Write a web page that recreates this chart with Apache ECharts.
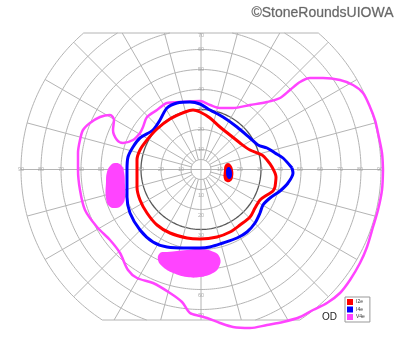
<!DOCTYPE html>
<html><head><meta charset="utf-8">
<script src="https://cdn.jsdelivr.net/npm/echarts@6/dist/echarts.min.js"></script>
<style>html,body{margin:0;padding:0;background:#fff}#c{width:400px;height:352px}</style>
</head><body><div id="c"></div>
<script>
// ---- grid definition (degrees of eccentricity) ----
const ringDegrees = [5, 10, 20, 30, 40, 50, 60, 70, 80, 90];
const spokeAngles = [0,15,30,45,60,75,90,105,120,135,150,165,180,195,210,225,240,255,270,285,300,315,330,345];
const horizontalTickLabels = [10, 20, 30, 40, 50, 60, 70, 80, 90];
const verticalTickLabels = [10, 20, 30, 40, 50, 60, 70];
const topLimit = 68.25;
const bottomLimit = -75.25;

// ---- isopters: [horizontal deg, vertical deg] ----
const isopterI2e = [[37,-8.75],[37.5,-3.75],[35.5,1.25],[33,4.75],[30.5,7.25],[24.5,9.75],[19.5,13.25],[14.5,17.25],[9.5,21.25],[4.5,25.75],[-0.5,28.75],[-4,29.75],[-8,28.75],[-15.5,25.25],[-22,20.25],[-27,14.75],[-30.5,9.75],[-32,4.75],[-32,-0.25],[-32,-8.75],[-30.5,-15.25],[-27,-21.75],[-22,-27.75],[-15.5,-31.75],[-7,-34.25],[-0.5,-34.75],[8,-33.75],[14.5,-31.25],[19.5,-27.75],[24.5,-23.75],[27,-19.25],[29.5,-15.25],[33,-12.75],[36,-10.75],[37,-8.75]];
const isopterI4e = [[45.5,0.75],[41,5.75],[37,8.25],[33,10.75],[28.5,12.25],[24.5,15.75],[18,21.25],[11,26.25],[4.5,29.75],[-0.5,32.75],[-5.5,33.75],[-12,33.25],[-17,30.75],[-20.5,24.75],[-24,19.75],[-30.5,15.75],[-34,11.25],[-36.5,6.25],[-37,-0.25],[-37,-13.75],[-35.5,-21.75],[-30.5,-30.25],[-24,-36.25],[-17,-38.75],[-7,-39.25],[-0.5,-39.25],[4.5,-38.75],[11,-36.75],[18,-34.25],[23,-31.25],[27,-26.75],[29.5,-21.75],[31,-17.75],[34.5,-14.25],[39.5,-10.75],[43.5,-6.75],[46,-1.75],[45.5,0.75]];
const isopterV4e = [[91,-0.25],[90.5,8.25],[88.5,18.25],[87,24.75],[84.5,31.25],[81,38.25],[76,42.25],[69.5,44.75],[61,45.75],[54.5,45.75],[49.5,43.75],[44.5,39.75],[39.5,35.75],[33,33.75],[24.5,32.25],[16,30.75],[9.5,30.75],[4.5,32.25],[-0.5,34.25],[-10.5,33.75],[-17,33.25],[-22,29.75],[-27,26.25],[-29,21.25],[-30.5,18.25],[-34,14.75],[-39,13.25],[-42,14.75],[-44,19.75],[-43.5,24.75],[-45.5,27.25],[-50.5,26.25],[-55.5,23.25],[-59,19.75],[-60.5,14.75],[-61.5,8.25],[-61.5,-0.25],[-60.5,-10.25],[-58,-20.25],[-52,-28.75],[-45.5,-35.25],[-40.5,-41.75],[-36.5,-50.25],[-32,-54.25],[-24,-56.75],[-15.5,-61.75],[-9.5,-66.25],[-5.5,-71.75],[-0.5,-73.25],[3,-74.25],[9.5,-76.75],[16,-78.75],[24.5,-79.25],[33,-77.75],[41,-76.25],[49.5,-73.75],[56,-70.25],[63,-66.75],[69.5,-61.75],[74.5,-55.25],[79.5,-46.75],[83,-38.75],[86,-28.75],[88.5,-20.25],[90.5,-10.25],[91,-0.25]];

// ---- scotomas (filled areas) ----
const scotomaV4eLeft = [[-43,3.25],[-40,2.25],[-38.5,-1.25],[-38,-7.75],[-38,-14.25],[-39.5,-17.75],[-42.5,-19.25],[-46,-18.25],[-47.5,-14.25],[-47.5,-6.25],[-47,-1.25],[-45.5,1.75]];
const scotomaV4eLower = [[-20.5,-41.75],[-21.5,-45.25],[-19,-48.75],[-14,-51.75],[-7,-53.75],[-0.5,-53.75],[6,-51.75],[9,-48.75],[9.5,-44.25],[6.5,-41.25],[-0.5,-39.75],[-7,-40.25],[-17,-41.25]];
const blindSpotI2e = [[13.5,3.25],[15,2.25],[16,-0.25],[16,-3.75],[15,-5.75],[13,-6.25],[11.5,-4.75],[11.5,-0.25],[12,2.25]];
const blindSpotI4e = [[14,1.25],[15,0.25],[15.5,-2.25],[15,-4.25],[14,-4.75],[13,-3.75],[12.5,-1.25],[13,0.75]];

const legendNames = ['I2e', 'I4e', 'V4e'];
const colors = { I2e: '#ff0000', I4e: '#0000ff', V4e: '#ff44ff' };

// ---- grid geometry helpers ----
function ringPaths(r) {
  const step = Math.PI / 180;
  const pt = t => [r * Math.cos(t), r * Math.sin(t)];
  const range = (a, b) => { const out = []; const n = Math.max(2, Math.ceil((b - a) / step)); for (let i = 0; i <= n; i++) out.push(pt(a + (b - a) * i / n)); return out; };
  const topClip = r > topLimit, botClip = r > -bottomLimit;
  if (!topClip && !botClip) return [range(0, 2 * Math.PI)];
  const aT = topClip ? Math.asin(topLimit / r) : Math.PI / 2;
  const aB = botClip ? Math.asin(bottomLimit / r) : -Math.PI / 2;
  if (topClip && !botClip) return [range(Math.PI - aT, 2 * Math.PI + aT)];
  if (!topClip && botClip) return [range(aB, Math.PI - aB)];
  return [range(aB, aT), range(Math.PI - aT, Math.PI - aB)];
}
function spokePath(a) {
  const t = a * Math.PI / 180, c = Math.cos(t), s = Math.sin(t);
  let rEnd = 90;
  if (s > 1e-9) rEnd = Math.min(90, topLimit / s);
  if (s < -1e-9) rEnd = Math.min(90, bottomLimit / s);
  const rStart = (a % 90 === 0) ? 0 : 5;
  return [[rStart * c, rStart * s], [rEnd * c, rEnd * s]];
}
const outerR = 90;
const chordPaths = [
  [[-Math.sqrt(outerR * outerR - topLimit * topLimit), topLimit], [Math.sqrt(outerR * outerR - topLimit * topLimit), topLimit]],
  [[-Math.sqrt(outerR * outerR - bottomLimit * bottomLimit), bottomLimit], [Math.sqrt(outerR * outerR - bottomLimit * bottomLimit), bottomLimit]]
];

const series = [];
function gridLine(path, color, width) {
  series.push({ type: 'line', data: path, showSymbol: false, symbol: 'none', silent: true, animation: false, z: 1,
    lineStyle: { color: color, width: width }, emphasis: { disabled: true } });
}
ringDegrees.forEach(r => ringPaths(r).forEach(p => gridLine(p, r === 30 ? '#5a5a5a' : '#b4b4b4', r === 30 ? 1.3 : 1)));
spokeAngles.forEach(a => gridLine(spokePath(a), '#b4b4b4', 1));
chordPaths.forEach(p => gridLine(p, '#b4b4b4', 1));

// tick labels
const labelData = [];
horizontalTickLabels.forEach(v => { labelData.push([-v, 0, v]); labelData.push([v - 0.5, 0, v]); });
verticalTickLabels.forEach(v => { labelData.push([0, Math.min(v, 67.25), v]); labelData.push([0, -(v + 2.75), v]); });
series.push({ type: 'scatter', data: labelData, symbolSize: 0, silent: true, animation: false, z: 2,
  label: { show: true, position: 'inside', formatter: p => String(p.value[2]), fontSize: 5.5, color: '#999', fontFamily: 'Liberation Sans' } });

function polygonSeries(name, pts, color, z) {
  series.push({ type: 'custom', name: name, coordinateSystem: 'cartesian2d', data: [[pts[0][0], pts[0][1]]], silent: true, animation: false, z: z,
    itemStyle: { color: color },
    renderItem: (params, api) => ({ type: 'polygon', shape: { points: pts.map(p => api.coord(p)), smooth: 0.45 }, style: { fill: color } }) });
}
polygonSeries('V4e', scotomaV4eLeft, colors.V4e, 3);
polygonSeries('V4e', scotomaV4eLower, colors.V4e, 3);
polygonSeries('I2e', blindSpotI2e, colors.I2e, 3);
polygonSeries('I4e', blindSpotI4e, colors.I4e, 4);

function isopter(name, pts, width) {
  series.push({ type: 'line', name: name, data: pts, showSymbol: false, symbol: 'none', smooth: 0.3, silent: true, animation: false, z: 5,
    itemStyle: { color: colors[name] }, lineStyle: { color: colors[name], width: width } });
}
isopter('V4e', isopterV4e, 2.5);
isopter('I4e', isopterI4e, 3);
isopter('I2e', isopterI2e, 3);

const chart = echarts.init(document.getElementById('c'));
chart.setOption({
  backgroundColor: '#fff',
  animation: false,
  title: { text: '©StoneRoundsUIOWA', right: 1, top: 1,
    textStyle: { fontSize: 14, fontWeight: 'normal', color: '#666', fontFamily: 'Liberation Sans', textBorderColor: '#bbb', textBorderWidth: 0.5 } },
  grid: { left: 11, right: 9, top: 25.5, bottom: 18.5 },
  xAxis: { type: 'value', min: -95, max: 95, show: false },
  yAxis: { type: 'value', min: -82, max: 72, show: false },
  legend: { data: legendNames, orient: 'vertical', left: 345, top: 297, icon: 'rect', itemWidth: 6, itemHeight: 6, itemGap: 1.5,
    padding: [2, 5, 2, 2], borderColor: '#999', borderWidth: 1, backgroundColor: '#fff', selectedMode: false,
    textStyle: { fontSize: 5, color: '#333', fontFamily: 'Liberation Sans', padding: [0, 0, 0, -2] } },
  graphic: [{ type: 'text', left: 322, top: 312, style: { text: 'OD', fontSize: 10, fill: '#222', fontFamily: 'Liberation Sans' } }],
  series: series
});
</script></body></html>
